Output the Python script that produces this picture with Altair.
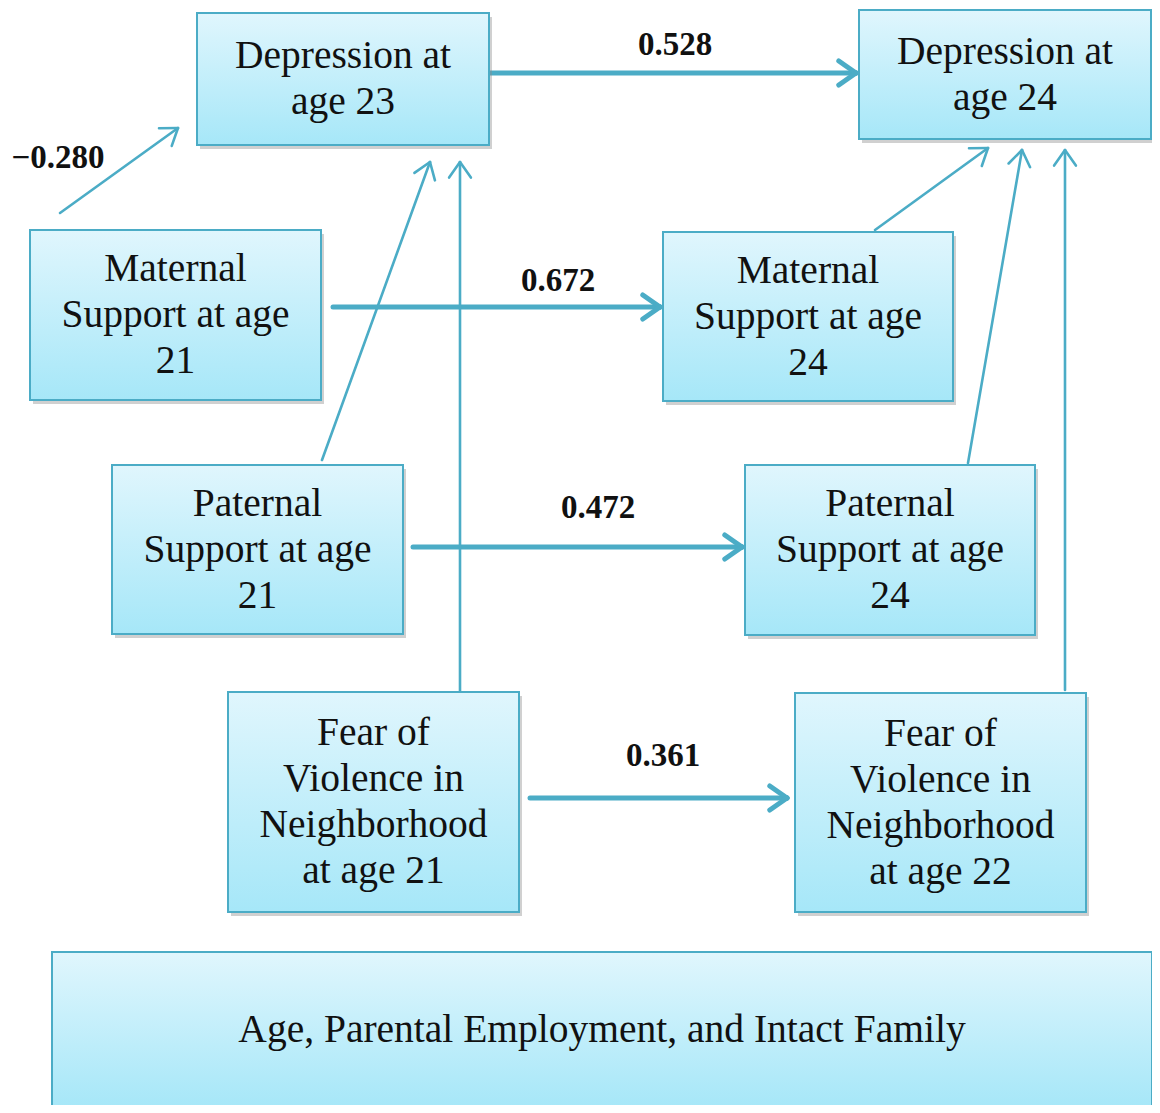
import math
import altair as alt
import pandas as pd

# ---- Nodes (diagram layout, in image pixels) ----
box_labels = [
    "Depression at\nage 23",
    "Depression at\nage 24",
    "Maternal\nSupport at age\n21",
    "Maternal\nSupport at age\n24",
    "Paternal\nSupport at age\n21",
    "Paternal\nSupport at age\n24",
    "Fear of\nViolence in\nNeighborhood\nat age 21",
    "Fear of\nViolence in\nNeighborhood\nat age 22",
    "Age, Parental Employment, and Intact Family",
]
box_left = [197, 859, 30, 663, 112, 745, 228, 795, 52]
box_right = [489, 1151, 321, 953, 403, 1035, 519, 1086, 1152]
box_top = [13, 10, 230, 232, 465, 465, 692, 693, 952]
box_bottom = [145, 139, 400, 401, 634, 635, 912, 912, 1108]

# ---- Paths ----
path_coef = ["0.528", "0.672", "0.472", "0.361", "\u22120.280", "", "", "", "", ""]
path_x1 = [489, 333, 413, 530, 60, 322, 460, 875, 968, 1065]
path_y1 = [73, 307, 547, 798, 213, 460, 706, 230, 463, 690]
path_x2 = [856, 660, 742, 787, 178, 430, 460, 988, 1022, 1065]
path_y2 = [73, 307, 547, 798, 128, 162, 162, 148, 150, 150]
path_thick = [True, True, True, True, False, False, False, False, False, False]
label_x = [675, 558, 598, 663, 58, None, None, None, None, None]
label_y = [45, 281, 508, 756, 158, None, None, None, None, None]

COLOR = "#4bacc6"
FONT = "Liberation Serif"
LINE_H = 46

W, H = 1144, 1097
xs = alt.Scale(domain=[8, 8 + W], nice=False, zero=False)
ys = alt.Scale(domain=[8, 8 + H], nice=False, zero=False, reverse=True)

boxes = pd.DataFrame({
    "label": box_labels, "x1": box_left, "x2": box_right,
    "y1": box_top, "y2": box_bottom,
})
boxes["cx"] = (boxes.x1 + boxes.x2) / 2
nlines = boxes.label.str.count("\n")
boxes["ty"] = (boxes.y1 + boxes.y2) / 2 - nlines * LINE_H / 2
shadow = boxes.copy()
for c in ["x1", "x2"]:
    shadow[c] = shadow[c] + 3
for c in ["y1", "y2"]:
    shadow[c] = shadow[c] + 4

gradient = alt.Gradient(
    gradient="linear",
    stops=[alt.GradientStop(color="#e0f6fd", offset=0),
           alt.GradientStop(color="#a6e7f8", offset=1)],
    x1=0, x2=0, y1=0, y2=1,
)

shadow_layer = alt.Chart(shadow).mark_rect(color="#8a8a8a", opacity=0.4).encode(
    x=alt.X("x1:Q", scale=xs, axis=None), x2="x2:Q",
    y=alt.Y("y1:Q", scale=ys, axis=None), y2="y2:Q",
)
box_layer = alt.Chart(boxes).mark_rect(fill=gradient, stroke=COLOR, strokeWidth=2).encode(
    x=alt.X("x1:Q", scale=xs, axis=None), x2="x2:Q",
    y=alt.Y("y1:Q", scale=ys, axis=None), y2="y2:Q",
)
text_layer = alt.Chart(boxes).mark_text(
    font=FONT, fontSize=39.5, lineBreak="\n", lineHeight=LINE_H,
    align="center", baseline="middle", color="#111111",
).encode(
    x=alt.X("cx:Q", scale=xs, axis=None),
    y=alt.Y("ty:Q", scale=ys, axis=None),
    text="label:N",
)

# shafts + arrowheads
segs = []
for i in range(len(path_x1)):
    sw = 5 if path_thick[i] else 2.6
    segs.append(dict(x=path_x1[i], y=path_y1[i], xe=path_x2[i], ye=path_y2[i], w=sw))
    dx, dy = path_x2[i] - path_x1[i], path_y2[i] - path_y1[i]
    L = math.hypot(dx, dy)
    ux, uy = dx / L, dy / L
    hl = 21 if path_thick[i] else 19
    for ang in (math.radians(35), -math.radians(35)):
        rx = ux * math.cos(ang) - uy * math.sin(ang)
        ry = ux * math.sin(ang) + uy * math.cos(ang)
        segs.append(dict(x=path_x2[i], y=path_y2[i],
                         xe=path_x2[i] - hl * rx, ye=path_y2[i] - hl * ry, w=sw))
segdf = pd.DataFrame(segs)

arrow_layer = alt.Chart(segdf).mark_rule(color=COLOR, strokeCap="round").encode(
    x=alt.X("x:Q", scale=xs, axis=None), x2="xe:Q",
    y=alt.Y("y:Q", scale=ys, axis=None), y2="ye:Q",
    strokeWidth=alt.StrokeWidth("w:Q", scale=None, legend=None),
)

labels = pd.DataFrame({"t": path_coef, "x": label_x, "y": label_y}).dropna()
label_layer = alt.Chart(labels).mark_text(
    font=FONT, fontSize=33, fontWeight="bold", align="center",
    baseline="middle", color="#111111",
).encode(
    x=alt.X("x:Q", scale=xs, axis=None),
    y=alt.Y("y:Q", scale=ys, axis=None),
    text="t:N",
)

chart = alt.layer(
    arrow_layer, shadow_layer, box_layer, text_layer, label_layer
).properties(
    width=W, height=H, padding=0, background="white",
    autosize=alt.AutoSizeParams(type="none"),
).configure_view(stroke=None)

chart.save("out.html", embed_options={"renderer": "svg", "actions": False})
